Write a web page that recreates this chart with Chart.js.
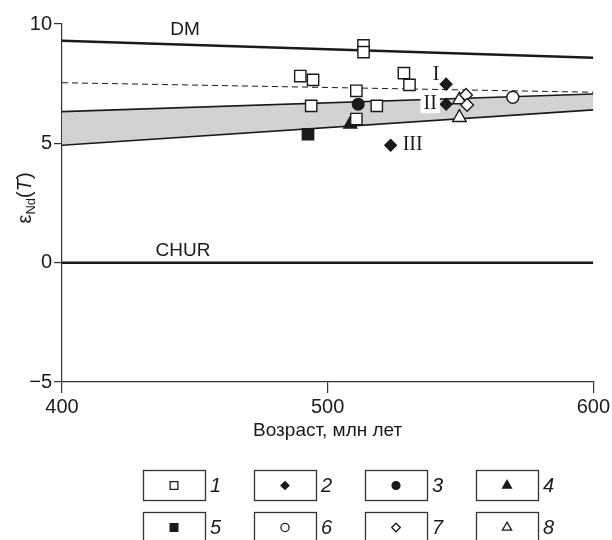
<!DOCTYPE html>
<html>
<head>
<meta charset="utf-8">
<script src="https://cdn.jsdelivr.net/npm/chart.js@4.4.1/dist/chart.umd.min.js"></script>
<style>
  html, body { margin: 0; padding: 0; background: #fff; }
  #wrap { width: 612px; height: 540px; }
</style>
</head>
<body>
<div id="wrap"><canvas id="chart" width="612" height="540"></canvas></div>
<script>
// reference lines, values at 400 and 600 Ma
const lineAges = [400, 600];
const dmLine = [9.3, 8.59];
const dashedLine = [7.54, 7.14];
const bandTop = [6.33, 7.07];
const bandBottom = [4.92, 6.4];
const churLine = [0, 0];

// sample groups 1..8 (age, eNd(T))
const s1Age = [513.5, 513.5, 489.7, 494.5, 528.7, 530.8, 510.8, 493.8, 518.5, 510.8];
const s1Eps = [9.1, 8.82, 7.82, 7.66, 7.94, 7.45, 7.2, 6.57, 6.57, 6.02];
const s2Age = [544.6, 544.6, 523.7];
const s2Eps = [7.48, 6.64, 4.92];
const s2Names = ['I', 'II', 'III'];
const s3Age = [511.5];
const s3Eps = [6.64];
const s4Age = [508.5];
const s4Eps = [5.8];
const s5Age = [492.6];
const s5Eps = [5.38];
const s6Age = [569.7];
const s6Eps = [6.93];
const s7Age = [552.1, 552.5];
const s7Eps = [7.03, 6.61];
const s8Age = [549.6, 549.6];
const s8Eps = [6.82, 6.08];

const xTicks = [400, 500, 600];
const yTicks = [-5, 0, 5, 10];
const legendNames = ['1', '2', '3', '4', '5', '6', '7', '8'];

const pts = (xs, ys) => xs.map((x, i) => ({ x: x, y: ys[i] }));
const ink = '#1a1a1a';
const sans = '"Liberation Sans", Arial, sans-serif';

function lineSet(ys, opts) {
    return Object.assign({
        type: 'line', data: pts(lineAges, ys), borderColor: ink, borderWidth: 2.5,
        pointRadius: 0, fill: false, tension: 0, order: 10
    }, opts);
}

function markSet(xs, ys, style, filled, r) {
    return {
        type: 'scatter', data: pts(xs, ys), pointStyle: style, pointRadius: r,
        backgroundColor: filled ? ink : '#fff', borderColor: ink, borderWidth: 1.4,
        order: 1
    };
}

const markers = [
    markSet(s1Age, s1Eps, 'rect', false, 8),
    markSet(s2Age, s2Eps, 'rectRot', true, 5.8),
    markSet(s3Age, s3Eps, 'circle', true, 5.8),
    markSet(s4Age, s4Eps, 'triangle', true, 7.5),
    markSet(s5Age, s5Eps, 'rect', true, 8),
    markSet(s6Age, s6Eps, 'circle', false, 6),
    markSet(s7Age, s7Eps, 'rectRot', false, 6.3),
    markSet(s8Age, s8Eps, 'triangle', false, 7.8)
];

const extras = {
    id: 'extras',
    afterDatasetsDraw(chart) {
        const ctx = chart.ctx, xs = chart.scales.x, ys = chart.scales.y;
        ctx.save();
        // line names
        ctx.fillStyle = ink;
        ctx.font = '19px ' + sans;
        ctx.textAlign = 'center';
        ctx.textBaseline = 'middle';
        ctx.fillText('DM', 185, 30);
        ctx.fillText('CHUR', 183, 251);

        // x axis title
        ctx.fillText('Возраст, млн лет', (chart.chartArea.left + chart.chartArea.right) / 2, 431);

        // roman labels beside the diamonds
        ctx.font = '20px "Liberation Serif", "Times New Roman", serif';
        const offs = [[-10, -9], [-16, 0], [22, 0]];
        s2Names.forEach((t, i) => {
            const px = xs.getPixelForValue(s2Age[i]) + offs[i][0];
            const py = ys.getPixelForValue(s2Eps[i]) + offs[i][1];
            if (i === 1) {
                const w = ctx.measureText(t).width;
                ctx.fillStyle = '#fff';
                ctx.fillRect(px - w / 2 - 3, py - 9, w + 6, 18);
            }
            ctx.fillStyle = ink;
            ctx.fillText(t, px, py);
        });

        // y axis title: eps_Nd(T)
        ctx.translate(24, 198);
        ctx.rotate(-Math.PI / 2);
        ctx.textAlign = 'left';
        ctx.textBaseline = 'alphabetic';
        const parts = [
            ['ε', '20px ' + sans, 0],
            ['Nd', '13px ' + sans, 4],
            ['(', '20px ' + sans, 0],
            ['T', 'italic 20px ' + sans, 0],
            [')', '20px ' + sans, 0]
        ];
        let total = 0;
        parts.forEach(p => { ctx.font = p[1]; total += ctx.measureText(p[0]).width; });
        let cx = -total / 2;
        parts.forEach(p => {
            ctx.font = p[1];
            ctx.fillText(p[0], cx, 7 + p[2]);
            cx += ctx.measureText(p[0]).width;
        });
        ctx.restore();

        // legend boxes
        ctx.save();
        const colX = [143, 254, 365, 476], rowY = [470, 512];
        markers.forEach((ds, i) => {
            const bx = colX[i % 4], by = rowY[Math.floor(i / 4)];
            ctx.strokeStyle = '#333';
            ctx.lineWidth = 1.3;
            ctx.strokeRect(bx + 0.5, by + 0.5, 62, 30);
            ctx.fillStyle = ds.backgroundColor;
            ctx.strokeStyle = ds.borderColor;
            Chart.helpers.drawPoint(ctx, { pointStyle: ds.pointStyle, radius: ds.pointRadius * 0.68, borderWidth: 1.3 }, bx + 31, by + 15.5);
            ctx.fillStyle = ink;
            ctx.font = 'italic 20px ' + sans;
            ctx.textAlign = 'left';
            ctx.textBaseline = 'middle';
            ctx.fillText(legendNames[i], bx + 67, by + 16);
        });
        ctx.restore();
    }
};

new Chart(document.getElementById('chart'), {
    type: 'scatter',
    data: {
        datasets: [
            lineSet(bandBottom, { borderWidth: 1.6 }),
            lineSet(bandTop, { borderWidth: 1.6, fill: '-1', backgroundColor: '#d2d2d2' }),
            lineSet(dashedLine, { borderWidth: 1, borderDash: [6, 4] }),
            lineSet(dmLine, {}),
            lineSet(churLine, {})
        ].concat(markers)
    },
    options: {
        responsive: false,
        animation: false,
        layout: { padding: { top: 24, right: 18, left: 0, bottom: 0 } },
        plugins: { legend: { display: false }, tooltip: { enabled: false } },
        scales: {
            x: {
                type: 'linear', min: 400, max: 600,
                afterBuildTicks: s => { s.ticks = xTicks.map(v => ({ value: v })); },
                afterFit: s => { s.height = 158; },
                ticks: { color: ink, font: { size: 20, family: sans }, padding: 2 },
                grid: { drawOnChartArea: false, tickLength: 11, color: '#333', lineWidth: 1.2 },
                border: { color: '#333', width: 1.2 }
            },
            y: {
                min: -5, max: 10,
                afterBuildTicks: s => { s.ticks = yTicks.map(v => ({ value: v })); },
                afterFit: s => { s.width = 62; },
                ticks: {
                    color: ink, padding: 2,
                    font: { size: 20, family: sans },
                    callback: v => v < 0 ? '\u2212' + Math.abs(v) : String(v)
                },
                grid: { drawOnChartArea: false, tickLength: 8, color: '#333', lineWidth: 1.2 },
                border: { color: '#333', width: 1.2 }
            }
        }
    },
    plugins: [extras]
});
</script>
</body>
</html>
